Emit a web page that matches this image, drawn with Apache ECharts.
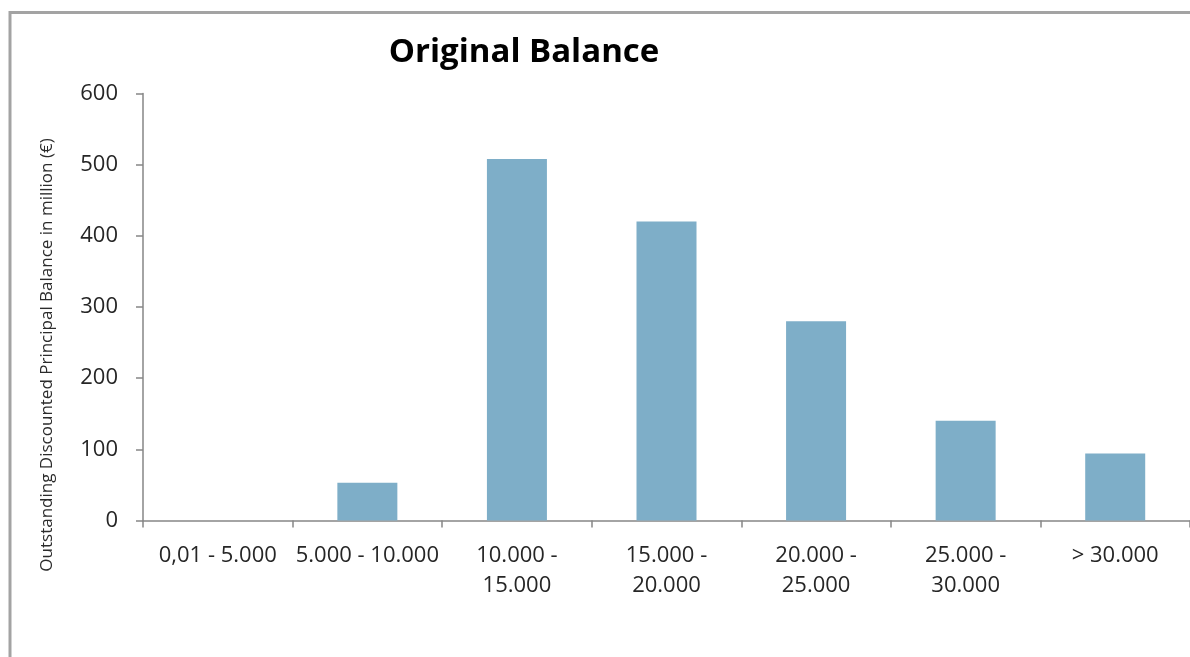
<!DOCTYPE html>
<html>
<head>
<meta charset="utf-8">
<script src="https://cdn.jsdelivr.net/npm/echarts@6/dist/echarts.min.js"></script>
<style>
html,body{margin:0;padding:0;background:#fff;}
#chart{width:1190px;height:657px;}
</style>
</head>
<body>
<div id="chart"></div>
<script>
const titleText = 'Original Balance';
const yAxisTitle = 'Outstanding Discounted Principal Balance in million (€)';
const categories = ['0,01 - 5.000', '5.000 - 10.000', '10.000 - 15.000', '15.000 - 20.000', '20.000 - 25.000', '25.000 - 30.000', '> 30.000'];
const tickLabels = ['0,01 - 5.000', '5.000 - 10.000', '10.000 -\n15.000', '15.000 -\n20.000', '20.000 -\n25.000', '25.000 -\n30.000', '> 30.000'];
const values = [0, 53, 508, 420, 280, 140, 94];
const yTicks = [0, 100, 200, 300, 400, 500, 600];

const FONT = '"Open Sans", "Noto Sans", sans-serif';
const chart = echarts.init(document.getElementById('chart'), null, {renderer: 'canvas'});
chart.setOption({
  backgroundColor: '#ffffff',
  animation: false,
  title: {
    text: titleText,
    left: 519,
    top: 31,
    textAlign: 'center',
    textStyle: {fontFamily: FONT, fontWeight: 'bold', fontSize: 33, color: '#000000'}
  },
  graphic: [
    {
      type: 'rect', silent: true, z: -1,
      shape: {x: 10, y: 12.5, width: 1400, height: 1000},
      style: {fill: null, stroke: '#a3a3a3', lineWidth: 3}
    },
    {
      type: 'text', silent: true,
      x: 47, y: 355, rotation: Math.PI / 2,
      style: {
        text: yAxisTitle, fontFamily: FONT, fontSize: 17, fill: '#2b2b2b',
        align: 'center', verticalAlign: 'middle'
      }
    }
  ],
  grid: {left: 143, right: 0, top: 93.5, bottom: 136.5, containLabel: false},
  xAxis: {
    type: 'category',
    data: categories,
    axisLine: {lineStyle: {color: '#868686', width: 1.5}},
    axisTick: {show: true, length: 7, alignWithLabel: false, lineStyle: {color: '#868686', width: 1.5}},
    axisLabel: {
      interval: 0, margin: 20, fontFamily: FONT, fontSize: 22, color: '#262626', lineHeight: 30,
      formatter: (v, i) => tickLabels[i]
    },
    splitLine: {show: false}
  },
  yAxis: {
    type: 'value',
    min: 0, max: 600, interval: 100,
    axisLine: {show: true, lineStyle: {color: '#868686', width: 1.5}},
    axisTick: {show: true, length: 7, lineStyle: {color: '#868686', width: 1.5}},
    axisLabel: {
      margin: 25, fontFamily: FONT, fontSize: 22, color: '#262626',
      formatter: v => (yTicks.indexOf(v) >= 0 ? String(v) : '')
    },
    splitLine: {show: false}
  },
  series: [{
    type: 'bar',
    data: values,
    barWidth: 60,
    itemStyle: {color: '#7eaec8'}
  }]
});
</script>
</body>
</html>
